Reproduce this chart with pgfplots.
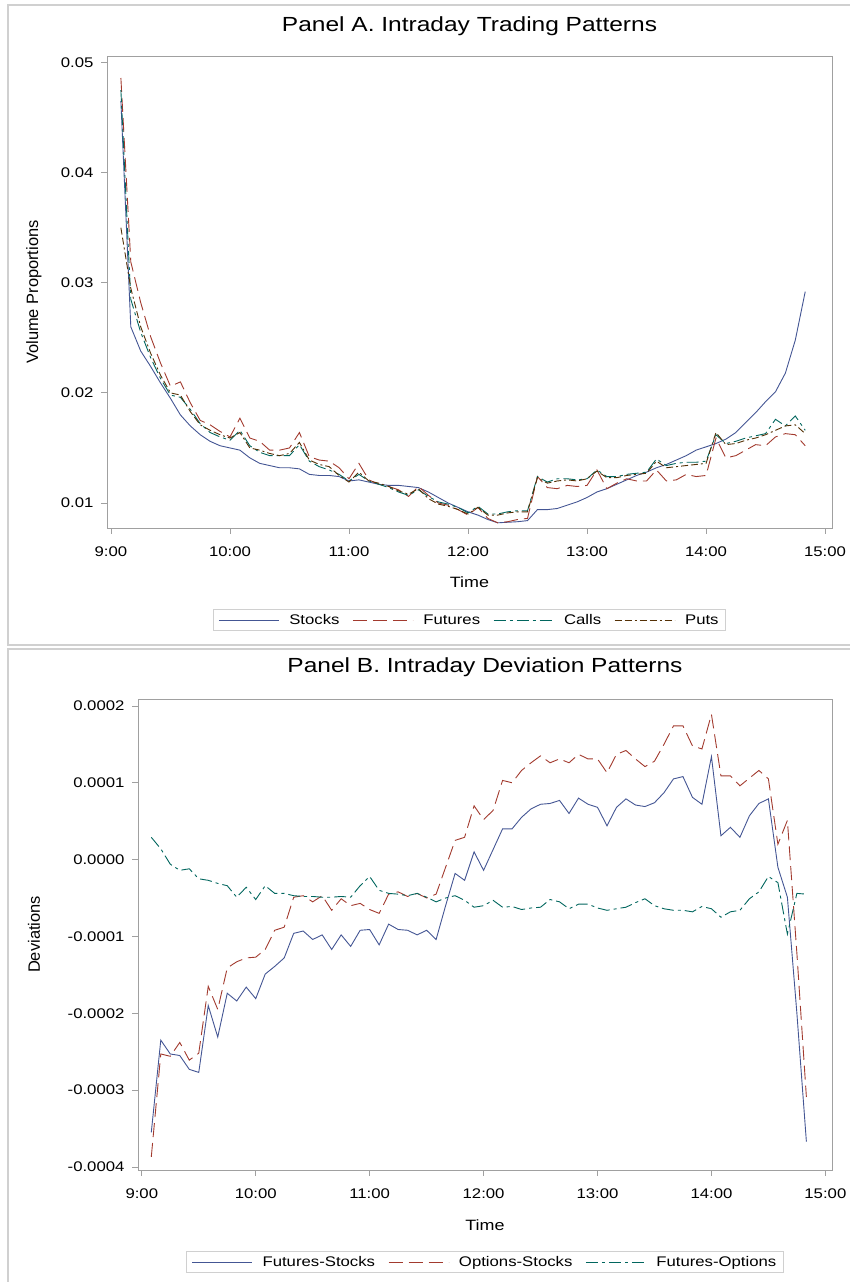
\documentclass[border=0pt]{standalone}
\usepackage{fontspec}
\setmainfont{Liberation Sans}[FakeStretch=1.2]
\newfontfamily\plainsans{Liberation Sans}
\usepackage{pgfplots}
\usepackage{pgfplotstable}
\pgfplotsset{compat=1.18}

\definecolor{cA}{HTML}{445694}
\definecolor{cB}{HTML}{A23A2E}
\definecolor{cC}{HTML}{01665E}
\definecolor{cD}{HTML}{543005}
\definecolor{axgray}{HTML}{A0A0A0}
\definecolor{framegray}{HTML}{D0D0D0}

\pgfplotstableread{
t s f c p
5 0.0465 0.0486 0.0475 0.0350
10 0.0260 0.0319 0.0285 0.0295
15 0.0238 0.0282 0.0255 0.0260
20 0.0224 0.0251 0.0232 0.0236
25 0.0209 0.0227 0.0213 0.0216
30 0.0195 0.0206 0.0198 0.0200
35 0.0180 0.0210 0.0196 0.0198
40 0.0170 0.0191 0.0185 0.0183
45 0.0162 0.0175 0.0172 0.0171
50 0.0156 0.0171 0.0164 0.0166
55 0.0152 0.0165 0.0160 0.0162
60 0.0150 0.0160 0.0157 0.0159
65 0.0148 0.0177 0.0166 0.0164
70 0.0141 0.0159 0.0152 0.0150
75 0.0136 0.0156 0.0146 0.0148
80 0.0134 0.0148 0.0143 0.0145
85 0.0132 0.0148 0.0143 0.0143
90 0.0132 0.0150 0.0143 0.0145
95 0.0131 0.0164 0.0153 0.0155
100 0.0126 0.0142 0.0138 0.0139
105 0.0125 0.0139 0.0133 0.0135
110 0.0125 0.0138 0.0130 0.0133
115 0.0124 0.0132 0.0126 0.0125
120 0.0120 0.0122 0.0120 0.0119
125 0.0121 0.0136 0.0126 0.0128
130 0.0119 0.0121 0.0120 0.0120
135 0.0117 0.0117 0.0117 0.0118
140 0.0116 0.0115 0.0114 0.0115
145 0.0116 0.0112 0.0110 0.0111
150 0.0115 0.0106 0.0107 0.0108
155 0.0114 0.0115 0.0112 0.0113
160 0.0110 0.0107 0.0106 0.0104
165 0.0105 0.0100 0.0101 0.0099
170 0.0100 0.0098 0.0099 0.0097
175 0.0096 0.0094 0.0096 0.0094
180 0.0092 0.0089 0.0091 0.0090
185 0.0089 0.0096 0.0097 0.0096
190 0.0085 0.0086 0.0090 0.0089
195 0.0082 0.0082 0.0090 0.0089
200 0.00825 0.0083 0.0092 0.0091
205 0.0083 0.0085 0.0093 0.0092
210 0.0084 0.0086 0.0093 0.0092
215 0.0094 0.0124 0.0124 0.0123
220 0.0094 0.0114 0.0119 0.0118
225 0.0095 0.0113 0.0122 0.0120
230 0.0098 0.0116 0.0122 0.0121
235 0.0101 0.0115 0.0121 0.0120
240 0.0105 0.0116 0.0122 0.0122
245 0.0110 0.0130 0.0130 0.0129
250 0.0113 0.0113 0.0124 0.0123
255 0.0117 0.0118 0.0124 0.0123
260 0.0121 0.0122 0.0126 0.0125
265 0.0125 0.0120 0.0127 0.0126
270 0.0128 0.0120 0.0128 0.0127
275 0.0132 0.0130 0.0140 0.0138
280 0.0135 0.0120 0.0134 0.0132
285 0.0139 0.0121 0.0136 0.0133
290 0.0143 0.0126 0.0137 0.0134
295 0.0148 0.0124 0.0137 0.0135
300 0.0151 0.0125 0.0138 0.0136
305 0.0154 0.0159 0.0162 0.0164
310 0.0158 0.0141 0.0154 0.0153
315 0.0164 0.0143 0.0156 0.0154
320 0.0173 0.0148 0.0159 0.0157
325 0.0182 0.0153 0.0161 0.0159
330 0.0192 0.0152 0.0163 0.0162
335 0.0201 0.0160 0.0176 0.0166
340 0.0218 0.0163 0.0170 0.0170
345 0.0248 0.0162 0.0179 0.0171
350 0.0292 0.0152 0.0166 0.0163
}\tableA

\pgfplotstableread{
t fs os fo
5 -0.000355 -0.000387 0.000029
10 -0.000235 -0.000253 0.000014
15 -0.000253 -0.000256 -0.000006
20 -0.000255 -0.000238 -0.000014
25 -0.000273 -0.000261 -0.000012
30 -0.000277 -0.000252 -0.000025
35 -0.000190 -0.000165 -0.000027
40 -0.000231 -0.000195 -0.000031
45 -0.000174 -0.000141 -0.000034
50 -0.000184 -0.000133 -0.000049
55 -0.000166 -0.000128 -0.000036
60 -0.000181 -0.000127 -0.000052
65 -0.000149 -0.000117 -0.000034
70 -0.000139 -0.000092 -0.000044
75 -0.000128 -0.000088 -0.000044
80 -0.000096 -0.000049 -0.000047
85 -0.000093 -0.000047 -0.000048
90 -0.000104 -0.000055 -0.000048
95 -0.000098 -0.000047 -0.000049
100 -0.000117 -0.000066 -0.000049
105 -0.000098 -0.000051 -0.000048
110 -0.000113 -0.000060 -0.000049
115 -0.000092 -0.000057 -0.000034
120 -0.000091 -0.000065 -0.000022
125 -0.000111 -0.000070 -0.000040
130 -0.000084 -0.000045 -0.000044
135 -0.000091 -0.000042 -0.000045
140 -0.000092 -0.000048 -0.000047
145 -0.000098 -0.000044 -0.000044
150 -0.000092 -0.000050 -0.000049
155 -0.000104 -0.000045 -0.000055
160 -0.000060 -0.000010 -0.000050
165 -0.000018 0.000025 -0.000047
170 -0.000027 0.000029 -0.000053
175 0.000010 0.000070 -0.000062
180 -0.000014 0.000052 -0.000060
185 0.000013 0.000064 -0.000053
190 0.000040 0.000103 -0.000062
195 0.000040 0.000100 -0.000061
200 0.000055 0.000116 -0.000065
205 0.000066 0.000126 -0.000063
210 0.000072 0.000135 -0.000062
215 0.000073 0.000126 -0.000052
220 0.000077 0.000131 -0.000055
225 0.000060 0.000126 -0.000064
230 0.000080 0.000137 -0.000058
235 0.000072 0.000131 -0.000058
240 0.000068 0.000131 -0.000063
245 0.000044 0.000113 -0.000066
250 0.000068 0.000137 -0.000064
255 0.000079 0.000142 -0.000062
260 0.000071 0.000131 -0.000056
265 0.000069 0.000121 -0.000051
270 0.000074 0.000128 -0.000060
275 0.000087 0.000150 -0.000064
280 0.000105 0.000174 -0.000066
285 0.000108 0.000174 -0.000066
290 0.000081 0.000148 -0.000068
295 0.000072 0.000144 -0.000061
300 0.000134 0.000189 -0.000064
305 0.000031 0.000109 -0.000075
310 0.000042 0.000109 -0.000068
315 0.000029 0.000096 -0.000066
320 0.000057 0.000106 -0.000051
325 0.000073 0.000116 -0.000042
330 0.000079 0.000105 -0.000022
335 -0.000010 0.000020 -0.000030
340 -0.000049 0.000051 -0.000097
345 -0.000200 -0.000122 -0.000044
350 -0.000367 -0.000309 -0.000045
}\tableB

\pgfplotsset{
  sas/.style={
    scale only axis,
    axis line style={axgray, line width=0.9bp},
    tick style={axgray, line width=0.8bp},
    major tick length=6bp,
    tick align=outside,
    xtick pos=left, ytick pos=left,
    minor tick num=0,
    xmin=-2, xmax=363.5,
    xtick={0,60,120,180,240,300,360},
    xticklabels={9:00,10:00,11:00,12:00,13:00,14:00,15:00},
    ticklabel style={font=\fontsize{14}{16}\selectfont, text=black},
    xticklabel style={yshift=-9bp},
    yticklabel style={xshift=-4bp},
    xlabel style={font=\fontsize{15}{17}\selectfont},
    ylabel style={font=\plainsans\fontsize{16.5}{18}\selectfont},
    title style={font=\fontsize{20.5}{23}\selectfont, anchor=center},
    scaled y ticks=false,
    legend columns=-1,
    legend style={draw=framegray, line width=0.8bp, font=\fontsize{14}{16}\selectfont,
      anchor=center, inner xsep=5bp, inner ysep=3bp,
      /tikz/every odd column/.append style={column sep=8bp},
      /tikz/every even column/.append style={column sep=11bp}},
    legend image code/.code={\draw[#1, line width=0.9bp] (0bp,0bp) -- (60bp,0bp);},
    every axis plot/.append style={line width=0.9bp},
  },
  stA/.style={cA, solid},
  stB/.style={cB, dash pattern=on 14bp off 6bp},
  stC/.style={cC, dash pattern=on 12bp off 4bp on 3bp off 4bp},
  stD/.style={cD, dash pattern=on 7bp off 3bp on 7bp off 3bp on 2bp off 3bp},
}

\begin{document}
\begin{tikzpicture}[x=1bp,y=1bp]
\useasboundingbox (0,0) rectangle (850,1282);
\draw[framegray, line width=1.2bp] (8,1277) rectangle (900,637);
\draw[framegray, line width=1.2bp] (8,633) rectangle (900,-20);

\begin{axis}[sas,
  at={(107bp,754bp)}, anchor=south west,
  width=725bp, height=472bp,
  ymin=0.00773, ymax=0.0506,
  ytick={0.01,0.02,0.03,0.04,0.05},
  yticklabels={0.01,0.02,0.03,0.04,0.05},
  title={Panel A. Intraday Trading Patterns},
  title style={at={(axis description cs:0.5,1.0508)}},
  xlabel={Time},
  xlabel style={at={(axis description cs:0.5,-0.1144)}, anchor=center},
  ylabel={Volume Proportions},
  ylabel style={at={(axis description cs:-0.1007,0.5)}, anchor=center},
  legend style={at={(axis description cs:0.5,-0.195)}},
]
\addplot[stA] table[x=t, y=s] {\tableA};
\addlegendentry{Stocks}
\addplot[stB] table[x=t, y=f] {\tableA};
\addlegendentry{Futures}
\addplot[stC] table[x=t, y=c] {\tableA};
\addlegendentry{Calls}
\addplot[stD] table[x=t, y=p] {\tableA};
\addlegendentry{Puts}
\end{axis}

\begin{axis}[sas,
  at={(138bp,112bp)}, anchor=south west,
  width=694bp, height=471bp,
  ymin=-0.000404, ymax=0.000209,
  ytick={-0.0004,-0.0003,-0.0002,-0.0001,0,0.0001,0.0002},
  yticklabels={-0.0004,-0.0003,-0.0002,-0.0001,0.0000,0.0001,0.0002},
  title={Panel B. Intraday Deviation Patterns},
  title style={at={(axis description cs:0.5,1.0552)}},
  xlabel={Time},
  xlabel style={at={(axis description cs:0.5,-0.1168)}, anchor=center},
  ylabel={Deviations},
  ylabel style={at={(axis description cs:-0.1499,0.5)}, anchor=center},
  legend style={at={(axis description cs:0.5,-0.1953)}},
]
\addplot[stA] table[x=t, y=fs] {\tableB};
\addlegendentry{Futures-Stocks}
\addplot[stB] table[x=t, y=os] {\tableB};
\addlegendentry{Options-Stocks}
\addplot[stC] table[x=t, y=fo] {\tableB};
\addlegendentry{Futures-Options}
\end{axis}
\end{tikzpicture}
\end{document}
